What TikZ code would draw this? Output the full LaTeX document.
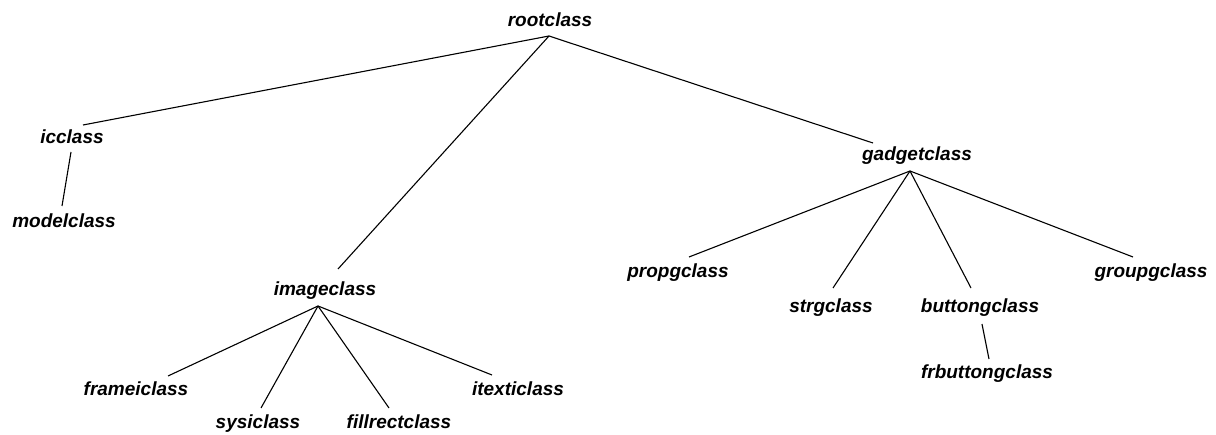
\documentclass[tikz,border=0pt]{standalone}
\usepackage{fontspec}
\setmainfont{Liberation Sans}
\begin{document}
\begin{tikzpicture}[x=1pt,y=-1pt,
  cls/.style={anchor=base,inner sep=0pt,font=\fontsize{19}{22}\selectfont\bfseries\itshape},
  edge/.style={draw=black,line width=1.1pt}]
\useasboundingbox (0,0) rectangle (1216,435);
% nodes
\node[cls] (root) at (550,27) {rootclass};
\node[cls] (ic) at (72,144) {icclass};
\node[cls] (model) at (64,228) {modelclass};
\node[cls] (image) at (325,296) {imageclass};
\node[cls] (frame) at (136,396) {frameiclass};
\node[cls] (sysi) at (258,429) {sysiclass};
\node[cls] (fill) at (399,429) {fillrectclass};
\node[cls] (itext) at (518,396) {itexticlass};
\node[cls] (gadget) at (917,161) {gadgetclass};
\node[cls] (propg) at (678,278) {propgclass};
\node[cls] (strg) at (831,313) {strgclass};
\node[cls] (button) at (980,313) {buttongclass};
\node[cls] (frbutton) at (987,379) {frbuttongclass};
\node[cls] (groupg) at (1151,278) {groupgclass};
% connector ends
\coordinate (root-o) at (549,36);
\coordinate (ic-i) at (83,125);
\coordinate (ic-o) at (71,152);
\coordinate (model-i) at (62,206);
\coordinate (image-i) at (338,269);
\coordinate (image-o) at (318,306);
\coordinate (frame-i) at (168,376);
\coordinate (sysi-i) at (261,408);
\coordinate (fill-i) at (389,408);
\coordinate (itext-i) at (492,375);
\coordinate (gadget-i) at (873,143);
\coordinate (gadget-o) at (910,171);
\coordinate (propg-i) at (689,257);
\coordinate (strg-i) at (833,288);
\coordinate (button-i) at (971,288);
\coordinate (button-o) at (982,324);
\coordinate (frbutton-i) at (989,359);
\coordinate (groupg-i) at (1133,257);
% connectors
\draw[edge] (root-o) -- (ic-i);
\draw[edge] (root-o) -- (image-i);
\draw[edge] (root-o) -- (gadget-i);
\draw[edge] (ic-o) -- (model-i);
\draw[edge] (image-o) -- (frame-i);
\draw[edge] (image-o) -- (sysi-i);
\draw[edge] (image-o) -- (fill-i);
\draw[edge] (image-o) -- (itext-i);
\draw[edge] (gadget-o) -- (propg-i);
\draw[edge] (gadget-o) -- (strg-i);
\draw[edge] (gadget-o) -- (button-i);
\draw[edge] (gadget-o) -- (groupg-i);
\draw[edge] (button-o) -- (frbutton-i);
\end{tikzpicture}
\end{document}
